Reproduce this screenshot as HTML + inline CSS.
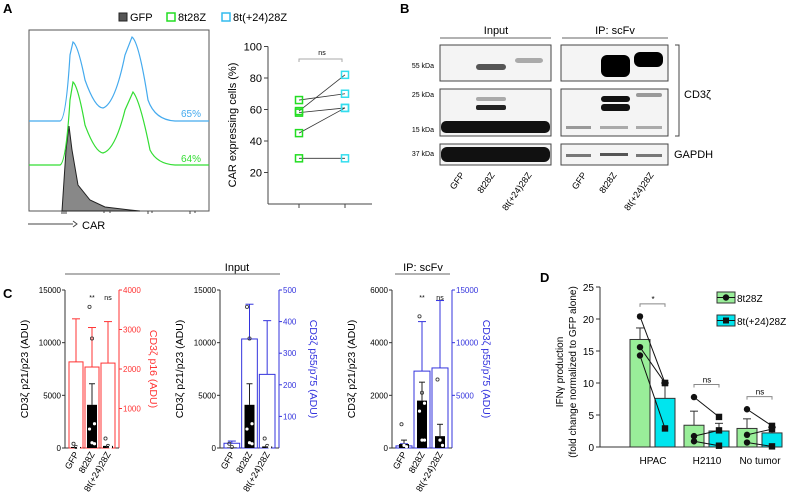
<!DOCTYPE html>
<html><head><meta charset="utf-8"><style>
html,body{margin:0;padding:0;background:#fff;}
svg{display:block;font-family:"Liberation Sans","DejaVu Sans",sans-serif;}
</style></head><body>
<svg id="fig" width="800" height="504" viewBox="0 0 800 504">
<g font-size="10" fill="#000">
<text x="3" y="13" font-size="13" font-weight="bold">A</text>
<text x="400" y="13" font-size="13" font-weight="bold">B</text>
<text x="3" y="298" font-size="13" font-weight="bold">C</text>
<text x="540" y="282" font-size="13" font-weight="bold">D</text>
</g>
<g font-size="11">
<rect x="119" y="13" width="8" height="8" fill="#555" stroke="#222"/>
<text x="130" y="21">GFP</text>
<rect x="167" y="13" width="8" height="8" fill="none" stroke="#22dd22" stroke-width="1.5"/>
<text x="178" y="21">8t28Z</text>
<rect x="222" y="13" width="8" height="8" fill="none" stroke="#33bbee" stroke-width="1.5"/>
<text x="233" y="21">8t(+24)28Z</text>
</g>
<g id="hist">
<rect x="29" y="30" width="180" height="181" fill="none" stroke="#555"/>
<path d="M62,211 L66,150 L69,126 L72,150 L78,185 L90,200 L105,207 L130,210 L140,211 Z" fill="#888" stroke="#222" stroke-width="1"/>
<path d="M29,165 L60,165 Q66,163 70,100 L73,82 Q78,86 85,125 Q95,152 103,153 Q115,150 125,110 L133,92 Q140,100 150,150 Q157,164 175,165 L209,165" fill="none" stroke="#33dd33" stroke-width="1.2"/>
<path d="M29,121 L60,121 Q66,120 70,55 L73,42 Q78,45 85,80 Q95,108 103,108 Q115,104 125,55 L132,37 Q139,42 148,100 Q155,120 175,121 L209,121" fill="none" stroke="#44aaee" stroke-width="1.2"/>
<path d="M62,211v3M64,211v3M66,211v3M104,211v2M110,211v2M148,211v3M152,211v2M190,211v3M195,211v2" stroke="#444"/>
<text x="181" y="117" fill="#44aaee" font-size="10">65%</text>
<text x="181" y="162" fill="#33dd33" font-size="10">64%</text>
<line x1="28" y1="224" x2="73" y2="224" stroke="#444"/>
<path d="M73,221 L77,224 L73,227" fill="none" stroke="#444"/>
<text x="82" y="229" font-size="11">CAR</text>
</g>
<g id="scatA"></g>
<g id="blot" font-size="10">
<text x="496" y="34" text-anchor="middle" font-size="11">Input</text>
<line x1="440" y1="38" x2="551" y2="38" stroke="#666"/>
<text x="615" y="34" text-anchor="middle" font-size="11">IP: scFv</text>
<line x1="562" y1="38" x2="668" y2="38" stroke="#666"/>
<g font-size="7" text-anchor="end">
<text x="434" y="68">55 kDa</text>
<text x="434" y="97">25 kDa</text>
<text x="434" y="132">15 kDa</text>
<text x="434" y="156">37 kDa</text>
</g>
<rect x="440" y="45" width="111" height="36" fill="#f4f4f4" stroke="#444"/>
<rect x="440" y="89" width="111" height="47" fill="#f4f4f4" stroke="#444"/>
<rect x="440" y="144" width="111" height="21" fill="#f4f4f4" stroke="#444"/>
<rect x="561" y="45" width="107" height="36" fill="#f4f4f4" stroke="#444"/>
<rect x="561" y="89" width="107" height="47" fill="#f4f4f4" stroke="#444"/>
<rect x="561" y="144" width="107" height="21" fill="#f4f4f4" stroke="#444"/>
<rect x="476" y="64" width="30" height="6" rx="3" fill="#555"/>
<rect x="515" y="58" width="28" height="5" rx="3" fill="#aaa"/>
<rect x="476" y="105" width="30" height="5" rx="2" fill="#222"/>
<rect x="476" y="97" width="30" height="4" rx="2" fill="#aaa"/>
<rect x="441" y="121" width="109" height="12" rx="5" fill="#111"/>
<rect x="441" y="147" width="109" height="15" rx="6" fill="#111"/>
<rect x="601" y="55" width="29" height="22" rx="6" fill="#000"/>
<rect x="634" y="52" width="29" height="15" rx="6" fill="#000"/>
<rect x="601" y="96" width="29" height="6" rx="3" fill="#111"/>
<rect x="601" y="104" width="29" height="7" rx="3" fill="#111"/>
<rect x="636" y="93" width="26" height="4" rx="2" fill="#999"/>
<rect x="566" y="126" width="25" height="3" fill="#999"/><rect x="600" y="126" width="28" height="3" fill="#aaa"/><rect x="636" y="126" width="26" height="3" fill="#aaa"/>
<rect x="566" y="154" width="25" height="3" fill="#777"/><rect x="600" y="153" width="28" height="3" fill="#555"/><rect x="636" y="154" width="26" height="3" fill="#777"/>
<path d="M675,45 L679,45 L679,136 L675,136" fill="none" stroke="#444"/>
<text x="684" y="98" font-size="11">CD3ζ</text>
<text x="674" y="158" font-size="11">GAPDH</text>
<g font-size="9" text-anchor="end">
<text transform="translate(465,175) rotate(-55)">GFP</text>
<text transform="translate(495,175) rotate(-55)">8t28Z</text>
<text transform="translate(532,175) rotate(-55)">8t(+24)28Z</text>
<text transform="translate(587,175) rotate(-55)">GFP</text>
<text transform="translate(617,175) rotate(-55)">8t28Z</text>
<text transform="translate(654,175) rotate(-55)">8t(+24)28Z</text>
</g>
</g>
<text x="237" y="271" text-anchor="middle" font-size="11">Input</text>
<line x1="65" y1="274" x2="280" y2="274" stroke="#666"/>
<text x="423" y="271" text-anchor="middle" font-size="11">IP: scFv</text>
<line x1="395" y1="274" x2="450" y2="274" stroke="#666"/>
<g id="c1"></g>
<g id="c2"></g>
<g id="c3"></g>
<g id="d"></g>
</svg>
<script>
var aGroups=["8t28Z","8t(+24)28Z"];
var a8t28z=[66,59,58,45,29];
var a8t24=[70,82,61,61,29];
var aTicks=[20,40,60,80,100];
var cCats=["GFP","8t28Z","8t(+24)28Z"];
var c1Black=[100,4100,200], c1BlackErr=[0,6100,0];
var c1Red=[2180,2050,2150], c1RedErr=[3270,3050,3200];
var c1Pts=[[400,100,50],[13400,10400,2300,1800,500,400],[900,200,100]];
var c1LeftTicks=[0,5000,10000,15000], c1RightTicks=[1000,2000,3000,4000];
var c2Black=[50,4100,150], c2BlackErr=[0,6100,0];
var c2Blue=[15,345,233], c2BlueErr=[22,455,403];
var c2Pts=[[400,100],[13400,10400,2300,1800,500,400],[900,200,100]];
var c2LeftTicks=[0,5000,10000,15000], c2RightTicks=[100,200,300,400,500];
var c3Black=[150,1800,450], c3BlackErr=[300,2500,900];
var c3Blue=[200,7300,7600], c3BlueErr=[400,12000,14000];
var c3Pts=[[900,100,50],[5000,2100,1700,1400,300,300],[2600,300,100]];
var c3LeftTicks=[0,2000,4000,6000], c3RightTicks=[5000,10000,15000];
var dCats=["HPAC","H2110","No tumor"];
var dGreen=[16.8,3.4,2.9], dGreenErr=[18.6,5.6,4.4];
var dCyan=[7.6,2.5,2.2], dCyanErr=[10,3.7,3.1];
var dGreenPts=[[20.4,15.6,14.3],[7.8,1.7,0.9],[5.9,1.9,0.7]];
var dCyanPts=[[10,10,2.9],[4.7,2.6,0.2],[3.3,2.8,0.1]];
var dTicks=[0,5,10,15,20,25];
var dSig=["*","ns","ns"];

var NS="http://www.w3.org/2000/svg";
function mk(p,tag,at,txt){var e=document.createElementNS(NS,tag);for(var k in at)e.setAttribute(k,at[k]);if(txt!=null)e.textContent=txt;p.appendChild(e);return e;}

(function(){
var g=document.getElementById('scatA');
function y(v){return 204-v*1.575;}
var xs=[299,345];
mk(g,'line',{x1:268,y1:y(100),x2:268,y2:204,stroke:'#444'});
mk(g,'line',{x1:268,y1:204,x2:372,y2:204,stroke:'#444'});
aTicks.forEach(function(t){mk(g,'line',{x1:264,y1:y(t),x2:268,y2:y(t),stroke:'#444'});
var l=mk(g,'text',{x:262,y:y(t)+4,'text-anchor':'end','font-size':11},t);

});
xs.forEach(function(x){mk(g,'line',{x1:x,y1:204,x2:x,y2:208,stroke:'#444'});});
var yl=mk(g,'text',{transform:'translate(236,125) rotate(-90)','text-anchor':'middle','font-size':11},'CAR expressing cells (%)');


mk(g,'path',{d:'M299,62 L299,59 L342,59 L342,62',fill:'none',stroke:'#aaa'});
mk(g,'text',{x:322,y:55,'text-anchor':'middle','font-size':7},'ns');
a8t28z.forEach(function(v,i){
mk(g,'line',{x1:xs[0],y1:y(v),x2:xs[1],y2:y(a8t24[i]),stroke:'#333','stroke-width':0.8});
var r=mk(g,'rect',{x:xs[0]-3.5,y:y(v)-3.5,width:7,height:7,fill:'none',stroke:'#22dd22','stroke-width':1.5});


var r2=mk(g,'rect',{x:xs[1]-3.5,y:y(a8t24[i])-3.5,width:7,height:7,fill:'none',stroke:'#33ddee','stroke-width':1.5});


});
})();

function cChart(id,o){
var g=document.getElementById(id);
var top=290,bot=448,h=bot-top;
function yl(v){return bot-v/o.lmax*h;}
function yr(v){return bot-v/o.rmax*h;}
mk(g,'line',{x1:o.lx,y1:top,x2:o.lx,y2:bot,stroke:'#333'});
mk(g,'line',{x1:o.rx,y1:top,x2:o.rx,y2:bot,stroke:o.rc});
mk(g,'line',{x1:o.lx,y1:bot,x2:o.rx,y2:bot,stroke:'#333'});
o.lt.forEach(function(t){mk(g,'line',{x1:o.lx-3,y1:yl(t),x2:o.lx,y2:yl(t),stroke:'#333'});
var l=mk(g,'text',{x:o.lx-4,y:yl(t)+3,'text-anchor':'end','font-size':8},t);

});
o.rt.forEach(function(t){mk(g,'line',{x1:o.rx,y1:yr(t),x2:o.rx+3,y2:yr(t),stroke:o.rc});
var l=mk(g,'text',{x:o.rx+4,y:yr(t)+3,'font-size':8,fill:o.rc},t);

});
var t1=mk(g,'text',{transform:'translate('+(o.lx-37)+','+(top+h/2)+') rotate(-90)','text-anchor':'middle','font-size':10.5},'CD3ζ p21/p23 (ADU)');


var t2=mk(g,'text',{transform:'translate('+(o.rx+31)+','+(top+h/2)+') rotate(90)','text-anchor':'middle','font-size':10.5,fill:o.rc},o.rtitle);


var bw=(o.rx-o.lx-6)/3;
cCats.forEach(function(c,i){
var x0=o.lx+3+i*bw+1, w=bw-2, cx=x0+w/2;
mk(g,'line',{x1:cx,y1:yr(o.r[i]),x2:cx,y2:yr(o.re[i]),stroke:o.rc});
mk(g,'line',{x1:cx-4,y1:yr(o.re[i]),x2:cx+4,y2:yr(o.re[i]),stroke:o.rc});
var rb=mk(g,'rect',{x:x0,y:yr(o.r[i]),width:w,height:bot-yr(o.r[i]),fill:'none',stroke:o.rc});


if(o.be[i]>o.b[i]){mk(g,'line',{x1:cx,y1:yl(o.b[i]),x2:cx,y2:yl(o.be[i]),stroke:'#222'});
mk(g,'line',{x1:cx-3,y1:yl(o.be[i]),x2:cx+3,y2:yl(o.be[i]),stroke:'#222'});}
var bb=mk(g,'rect',{x:cx-5,y:yl(o.b[i]),width:10,height:bot-yl(o.b[i]),fill:'#000'});


o.p[i].forEach(function(v,j){var inBar=v<o.b[i];
mk(g,'circle',{cx:cx+((j%3)-1)*2.5,cy:yl(v),r:1.6,fill:inBar?'#fff':'none',stroke:inBar?'none':'#333','stroke-width':0.8});});
var xl=mk(g,'text',{transform:'translate('+(cx+3)+','+(bot+6)+') rotate(-60)','text-anchor':'end','font-size':9},c);


if(o.sig[i]){mk(g,'text',{x:cx,y:top+10,'text-anchor':'middle','font-size':7},o.sig[i]);}
});
}
cChart('c1',{lx:65,rx:119,lmax:15000,rmax:4000,rc:'#ff3333',rtitle:'CD3ζ p16 (ADU)',lt:c1LeftTicks,rt:c1RightTicks,b:c1Black,be:c1BlackErr,r:c1Red,re:c1RedErr,p:c1Pts,sig:['','**','ns']});
cChart('c2',{lx:220,rx:279,lmax:15000,rmax:500,rc:'#3333dd',rtitle:'CD3ζ p55/p75 (ADU)',lt:c2LeftTicks,rt:c2RightTicks,b:c2Black,be:c2BlackErr,r:c2Blue,re:c2BlueErr,p:c2Pts,sig:['','','']});
cChart('c3',{lx:392,rx:452,lmax:6000,rmax:15000,rc:'#3333dd',rtitle:'CD3ζ p55/p75 (ADU)',lt:c3LeftTicks,rt:c3RightTicks,b:c3Black,be:c3BlackErr,r:c3Blue,re:c3BlueErr,p:c3Pts,sig:['','**','ns']});

(function(){
var g=document.getElementById('d');
var bot=447,top=287;function y(v){return bot-v/25*(bot-top);}
var centers=[653,707,760];
mk(g,'line',{x1:600,y1:top,x2:600,y2:bot,stroke:'#333'});
mk(g,'line',{x1:600,y1:bot,x2:775,y2:bot,stroke:'#333'});
dTicks.forEach(function(t){mk(g,'line',{x1:596,y1:y(t),x2:600,y2:y(t),stroke:'#333'});
var l=mk(g,'text',{x:594,y:y(t)+4,'text-anchor':'end','font-size':10},t);

});
var t1=mk(g,'text',{transform:'translate(563,372) rotate(-90)','text-anchor':'middle','font-size':10},'IFNγ production');


mk(g,'text',{transform:'translate(576,372) rotate(-90)','text-anchor':'middle','font-size':10},'(fold change normalized to GFP alone)');
dCats.forEach(function(c,i){
var cx=centers[i], gx=cx-23, bx=cx+2, w=20;
[[gx,dGreen[i],dGreenErr[i],'#99ee99','bar-8t28z-'],[bx,dCyan[i],dCyanErr[i],'#00e5ee','bar-8t24-']].forEach(function(b){
mk(g,'line',{x1:b[0]+w/2,y1:y(b[1]),x2:b[0]+w/2,y2:y(b[2]),stroke:'#333'});
mk(g,'line',{x1:b[0]+w/2-4,y1:y(b[2]),x2:b[0]+w/2+4,y2:y(b[2]),stroke:'#333'});
var r=mk(g,'rect',{x:b[0],y:y(b[1]),width:w,height:bot-y(b[1]),fill:b[3],stroke:'#333'});


});
dGreenPts[i].forEach(function(v,j){var v2=dCyanPts[i][j];
mk(g,'line',{x1:gx+w/2,y1:y(v),x2:bx+w/2,y2:y(v2),stroke:'#111'});
mk(g,'circle',{cx:gx+w/2,cy:y(v),r:3.2,fill:'#111'});
mk(g,'rect',{x:bx+w/2-3.2,y:y(v2)-3.2,width:6.4,height:6.4,fill:'#111'});});
var xl=mk(g,'text',{x:cx,y:464,'text-anchor':'middle','font-size':10},c);


var sy=y(Math.max(dGreenErr[i],dGreenPts[i][0])+1.5);
mk(g,'path',{d:'M'+(gx+w/2)+','+sy+' L'+(gx+w/2)+','+(sy-3)+' L'+(bx+w/2)+','+(sy-3)+' L'+(bx+w/2)+','+sy,fill:'none',stroke:'#888'});
mk(g,'text',{x:cx,y:sy-5,'text-anchor':'middle','font-size':8},dSig[i]);
});
var lg=mk(g,'g',{});


mk(lg,'rect',{x:717,y:292,width:18,height:11,fill:'#99ee99',stroke:'#333'});
mk(lg,'line',{x1:717,y1:297.5,x2:735,y2:297.5,stroke:'#111'});
mk(lg,'circle',{cx:726,cy:297.5,r:3.2,fill:'#111'});
mk(lg,'text',{x:737,y:302,'font-size':10},'8t28Z');
mk(lg,'rect',{x:717,y:315,width:18,height:11,fill:'#00e5ee',stroke:'#333'});
mk(lg,'line',{x1:717,y1:320.5,x2:735,y2:320.5,stroke:'#111'});
mk(lg,'rect',{x:723,y:317.5,width:6,height:6,fill:'#111'});
mk(lg,'text',{x:737,y:325,'font-size':10},'8t(+24)28Z');
})();
</script>
</body></html>
